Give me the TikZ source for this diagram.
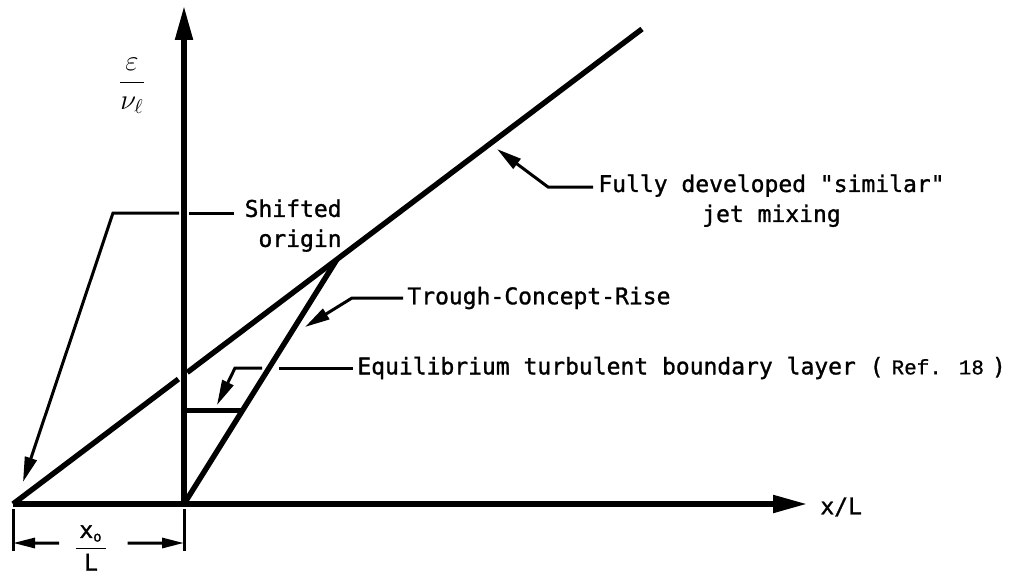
\documentclass[tikz,border=0pt]{standalone}
\usepackage{fontspec}
\usepackage{amsmath}
\newfontfamily\typer[FakeBold=1.2]{DejaVu Sans Mono}
\newfontfamily\reftyper[FakeBold=0.8]{Liberation Mono}
\usetikzlibrary{arrows.meta, calc}

\begin{document}
\begin{tikzpicture}[
      x=0.5pt, y=-0.5pt,
      axis/.style={line width=2.6pt, -{Triangle[length=17pt, width=8.5pt]}},
      curve/.style={line width=2.7pt},
      leader/.style={line width=1.5pt},
      pointer/.style={leader, -{Triangle[length=12.5pt, width=6pt]}},
      dimline/.style={line width=1.5pt, -{Triangle[length=11pt, width=5pt]}},
      lbl/.style={inner sep=0pt, font=\typer\fontsize{11.5}{15}\selectfont}
    ]
    \useasboundingbox (0,0) rectangle (1017,583);

    % axes and the two origins
    \coordinate (S) at (13,504);
    \coordinate (O) at (184,504);
    \coordinate (ytip) at (184,6);
    \coordinate (xtip) at (807,504);
    \draw[axis] (S) -- (xtip);
    \draw[axis] (O) -- (ytip);

    % similar jet line, trough line and equilibrium layer
    \coordinate (T) at (642,29);
    \coordinate (A) at ($(S)!0.515!(T)$);
    \coordinate (E) at ($(O)!0.382!(A)$);
    \draw[curve] (S) -- ($(S)!0.263!(T)$);
    \draw[curve] ($(S)!0.277!(T)$) -- (T);
    \draw[curve] (O) -- (A);
    \draw[curve, line width=2.2pt] (O |- E) -- (E);

    % labels
    \node[lbl] (eps) at (132,86) {\fontsize{14}{16}\selectfont$\dfrac{\varepsilon}{\nu_\ell}$};
    \node[lbl, anchor=west] (xl) at (820,507) {x/L};
    \node[lbl, anchor=north west, align=center] (fully) at (598,174) {Fully developed "similar"\\jet mixing};
    \node[lbl, anchor=north east, align=right] (shifted) at (342,199) {Shifted\\origin};
    \node[lbl, anchor=west] (trough) at (407,298) {Trough-Concept-Rise};
    \node[lbl, anchor=west] (equil) at (357,368) {Equilibrium turbulent boundary layer (\hspace{4pt}{\reftyper\fontsize{10.5}{13}\selectfont Ref. 18}\hspace{4pt})};
    \node[lbl] (xo) at (91,548) {$\dfrac{\hbox{x}_{\hbox{\fontsize{7}{8}\selectfont o}}}{\hbox to 15pt{\hfil L\hfil}}$};

    % leaders
    \coordinate (fullyIn) at ($(fully.north west)+(-5,13)$);
    \coordinate (fullyBend) at (548,187);
    \coordinate (fullyTip) at (497,149);
    \draw[pointer] (fullyIn) -- (fullyBend) -- (fullyTip);

    \coordinate (shIn) at ($(shifted.north west)+(-10,14)$);
    \coordinate (shGapR) at (189,0 |- shIn);
    \coordinate (shGapL) at (179,0 |- shIn);
    \coordinate (shBend) at (113,0 |- shIn);
    \coordinate (shTip) at (23,482);
    \draw[leader] (shIn) -- (shGapR);
    \draw[pointer] (shGapL) -- (shBend) -- (shTip);

    \coordinate (trBend) at (352,298);
    \coordinate (trTip) at (305,327);
    \draw[pointer] ([xshift=-2pt]trough.west) -- (trBend) -- (trTip);

    \coordinate (eqGapR) at (279,368);
    \coordinate (eqGapL) at (262,368);
    \coordinate (eqBend) at (235,368);
    \coordinate (eqTip) at (217,405);
    \draw[leader] ([xshift=-2pt]equil.west) -- (eqGapR);
    \draw[pointer] (eqGapL) -- (eqBend) -- (eqTip);

    % x_o / L dimension
    \coordinate (dl) at (13,543);
    \coordinate (dr) at (184,543);
    \draw[leader] ($(S)+(0,5)$) -- ($(S)+(0,47)$);
    \draw[leader] ($(O)+(0,5)$) -- ($(O)+(0,47)$);
    \draw[dimline] ($(dl)!0.27!(dr)$) -- (dl);
    \draw[dimline] ($(dl)!0.67!(dr)$) -- (dr);
  \end{tikzpicture}
\end{document}
